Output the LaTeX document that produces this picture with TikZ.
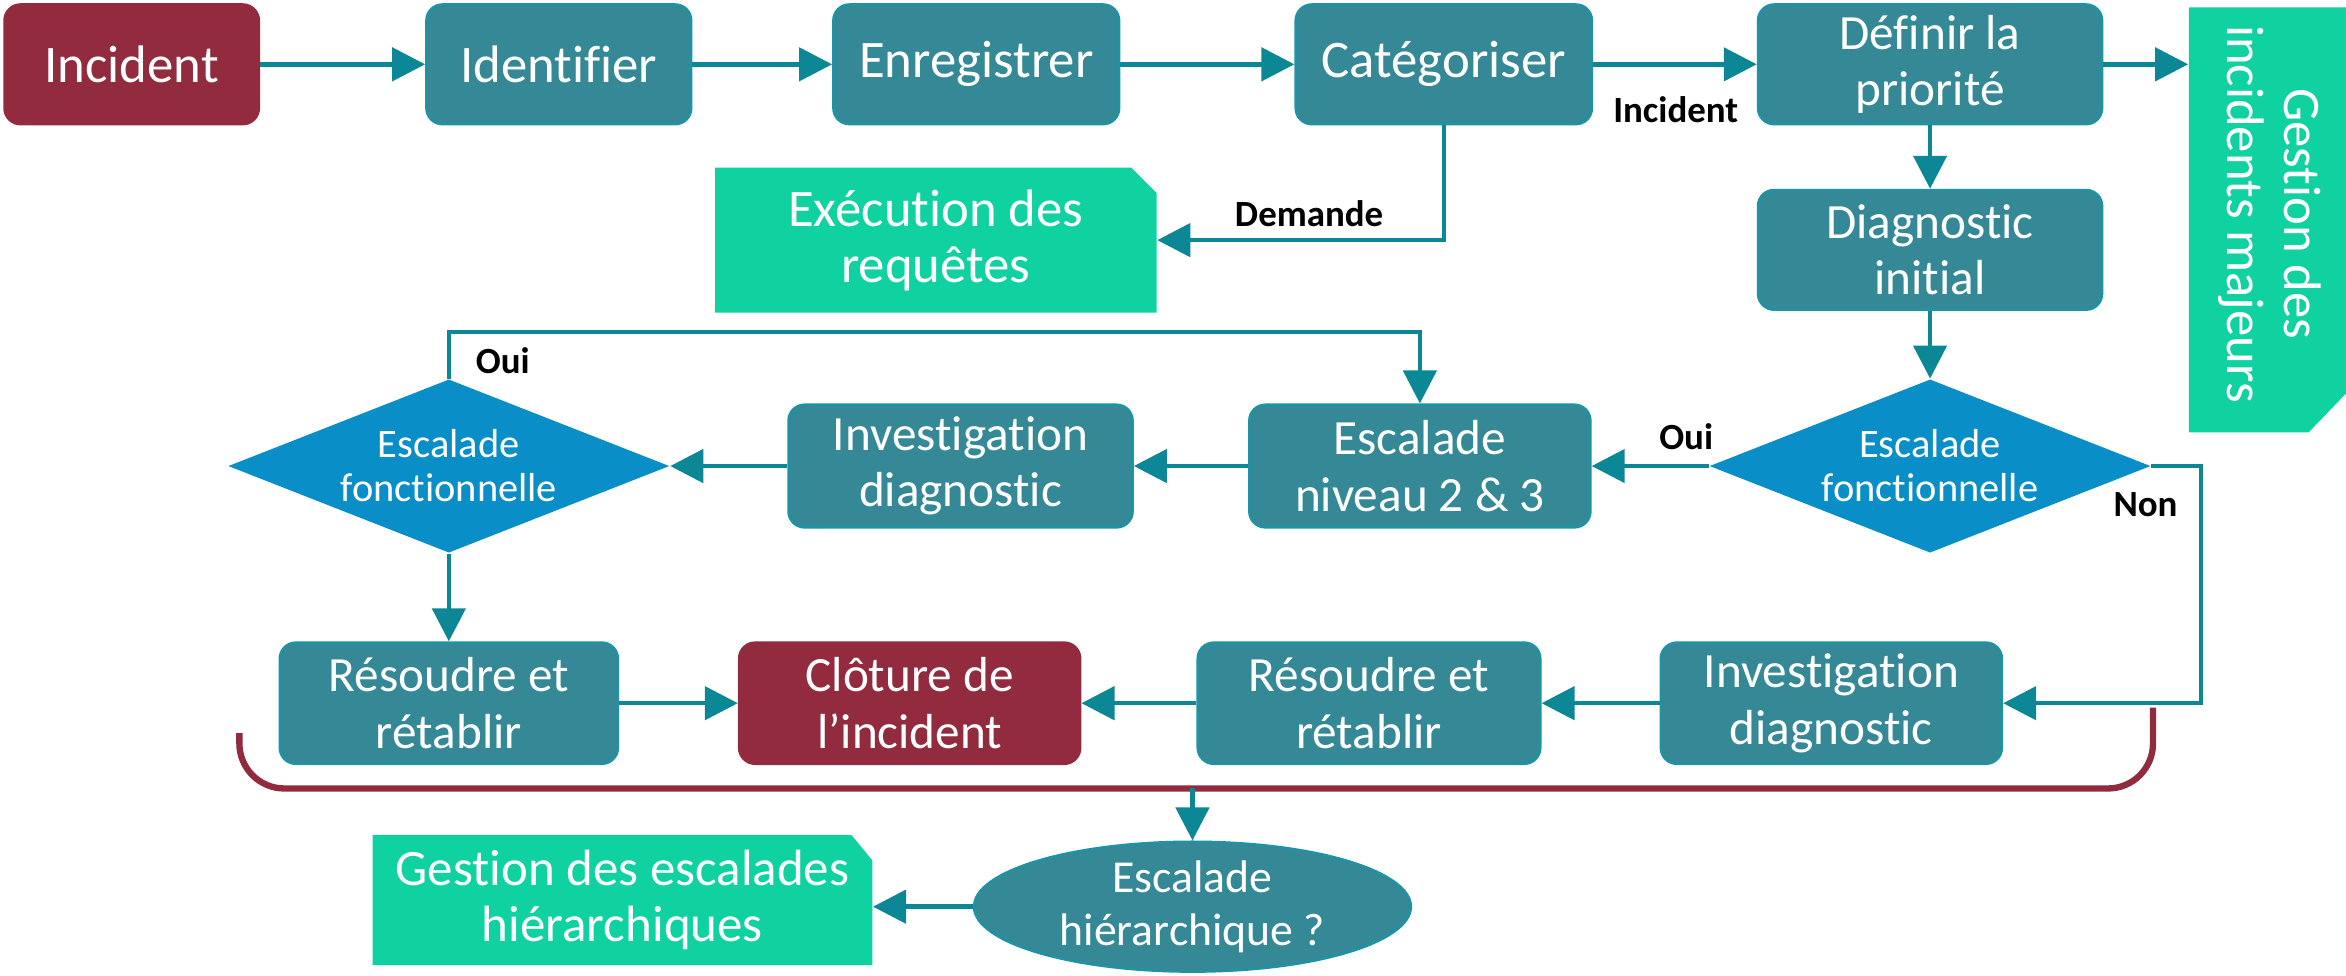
\documentclass[tikz,border=0pt]{standalone}
\usepackage{fontspec}
\setmainfont[Ligatures={NoCommon}]{Carlito}
\usetikzlibrary{arrows.meta,shapes.geometric}
\definecolor{tealbox}{HTML}{358896}
\definecolor{tealedge}{HTML}{1D93A3}
\definecolor{tealline}{HTML}{0B8796}
\definecolor{redbox}{HTML}{922B3E}
\definecolor{greenbox}{HTML}{0FD2A0}
\definecolor{bluedia}{HTML}{0A8EC8}
\newcommand\pxu{0.01496cm}
\begin{document}
\begin{tikzpicture}[x=0.01496cm, y=-0.01496cm,
  tbox/.style={rectangle, rounded corners=0.16cm, fill=tealbox, draw=tealedge, line width=0.7pt,
    text=white, align=center, inner sep=0pt, font=\fontsize{15}{16}\selectfont},
  two/.style={font=\fontsize{14}{16}\selectfont},
  rbox/.style={tbox, fill=redbox, draw=redbox},
  gtext/.style={rectangle, inner sep=0pt, text=white, align=center, font=\fontsize{15}{16}\selectfont},
  dia/.style={diamond, aspect=2.54, fill=bluedia, inner sep=0pt, text=white, align=center,
    minimum width=295*\pxu, minimum height=116*\pxu, font=\fontsize{11.5}{12.5}\selectfont},
  ell/.style={ellipse, fill=tealbox, draw=tealedge, line width=0.7pt, inner sep=0pt, text=white, align=center,
    minimum width=292*\pxu, minimum height=80*\pxu, font=\fontsize{13}{15}\selectfont},
  arr/.style={draw=tealline, line width=1.3pt, -{Triangle[length=3.3mm,width=3.3mm]}},
  lbl/.style={font=\bfseries\fontsize{10.5}{12}\selectfont, text=black, inner sep=0pt},
  ]
\useasboundingbox (0,0) rectangle (1568,652);

% green shapes
\fill[greenbox] (478,112) -- (756,112) -- (773,129) -- (773,209) -- (478,209) -- cycle;
\fill[greenbox] (249,558) -- (569,558) -- (583,575) -- (583,645) -- (249,645) -- cycle;
\fill[greenbox] (1463,5) -- (1568,5) -- (1568,263) -- (1543,289) -- (1463,289) -- cycle;

% row 1
\node[rbox, minimum width=170*\pxu, minimum height=80*\pxu] (inc) at (88,43) {Incident};
\node[tbox, minimum width=177*\pxu, minimum height=80*\pxu] (ident) at (373.5,43) {Identifier};
\node[tbox, minimum width=191*\pxu, minimum height=80*\pxu] (enreg) at (652.5,43) {Enregistrer};
\node[tbox, minimum width=198*\pxu, minimum height=80*\pxu] (cat) at (965,43) {Catégoriser};
\node[tbox, two, minimum width=230*\pxu, minimum height=80*\pxu] (def) at (1290,43) {Définir la\\priorité};
\node[gtext, minimum width=105*\pxu, minimum height=284*\pxu] (gim) at (1515.5,147) {};
\node[gtext, rotate=-90] (gimt) at (1517,143) {Gestion des\\incidents majeurs};

% row 2
\node[gtext, minimum width=295*\pxu, minimum height=97*\pxu] (exec) at (625.5,160.5) {Exécution des\\requêtes};
\node[tbox, two, minimum width=230*\pxu, minimum height=80*\pxu] (diag) at (1290,167) {Diagnostic\\initial};

% row 3
\node[dia] (d1) at (1290,311.5) {Escalade\\fonctionnelle};
\node[tbox, two, minimum width=228*\pxu, minimum height=82*\pxu] (esc) at (949,311.5) {Escalade\\niveau 2 \& 3};
\node[tbox, two, minimum width=230*\pxu, minimum height=82*\pxu] (inv1) at (642,311.5) {Investigation\\diagnostic};
\node[dia] (d2) at (300,311.5) {Escalade\\fonctionnelle};

% row 4
\node[tbox, two, minimum width=226*\pxu, minimum height=81*\pxu] (res1) at (300,470) {Résoudre et\\rétablir};
\node[rbox, two, minimum width=228*\pxu, minimum height=81*\pxu] (clo) at (608,470) {Clôture de\\l’incident};
\node[tbox, two, minimum width=229*\pxu, minimum height=81*\pxu] (res2) at (915,470) {Résoudre et\\rétablir};
\node[tbox, two, minimum width=228*\pxu, minimum height=81*\pxu] (inv2) at (1224,470) {Investigation\\diagnostic};

% row 5
\node[ell] (ell) at (797,606) {Escalade\\hiérarchique ?};
\node[gtext, font=\fontsize{14.5}{16}\selectfont, minimum width=334*\pxu, minimum height=87*\pxu] (gesc) at (416,601.5) {Gestion des escalades\\hiérarchiques};

% labels
\node[lbl] (lInc) at (1120,73) {Incident};
\node[lbl] (lDem) at (875,143) {Demande};
\node[lbl] (lOui1) at (1127,292) {Oui};
\node[lbl] (lOui2) at (336,241) {Oui};
\node[lbl] (lNon) at (1434,337) {Non};

% coordinates
\coordinate (t1) at (300,222);
\coordinate (t2) at (1471,311.5);
\coordinate (b1) at (160,490);
\coordinate (b2) at (160,527);
\coordinate (b3) at (1439,527);
\coordinate (b4) at (1439,473);
\coordinate (bm) at (797,527);

% connectors
\draw[arr] (inc.east) -- (ident.west);
\draw[arr] (ident.east) -- (enreg.west);
\draw[arr] (enreg.east) -- (cat.west);
\draw[arr] (cat.east) -- (def.west);
\draw[arr] (def.east) -- (def.east -| gim.west);
\draw[arr] (cat.south) |- (exec.east);
\draw[arr] (def.south) -- (diag.north);
\draw[arr] (diag.south) -- (d1.north);
\draw[arr] (d1.west) -- (d1.west -| esc.east);
\draw[arr] (esc.west) -- (esc.west -| inv1.east);
\draw[arr] (inv1.west) -- (inv1.west -| d2.east);
\draw[arr] (d2.north) -- (t1) -| (esc.north);
\draw[arr] (d1.east) -- (t2) |- (inv2.east);
\draw[arr] (inv2.west) -- (res2.east);
\draw[arr] (res2.west) -- (clo.east);
\draw[arr] (res1.east) -- (clo.west);
\draw[arr] (d2.south) -- (res1.north);
\draw[redbox, line width=1.8pt, rounded corners=0.45cm] (b1) -- (b2) -- (b3) -- (b4);
\draw[arr] (bm) -- (ell.north);
\draw[arr] (ell.west) -- (ell.west -| gesc.east);
\end{tikzpicture}
\end{document}
